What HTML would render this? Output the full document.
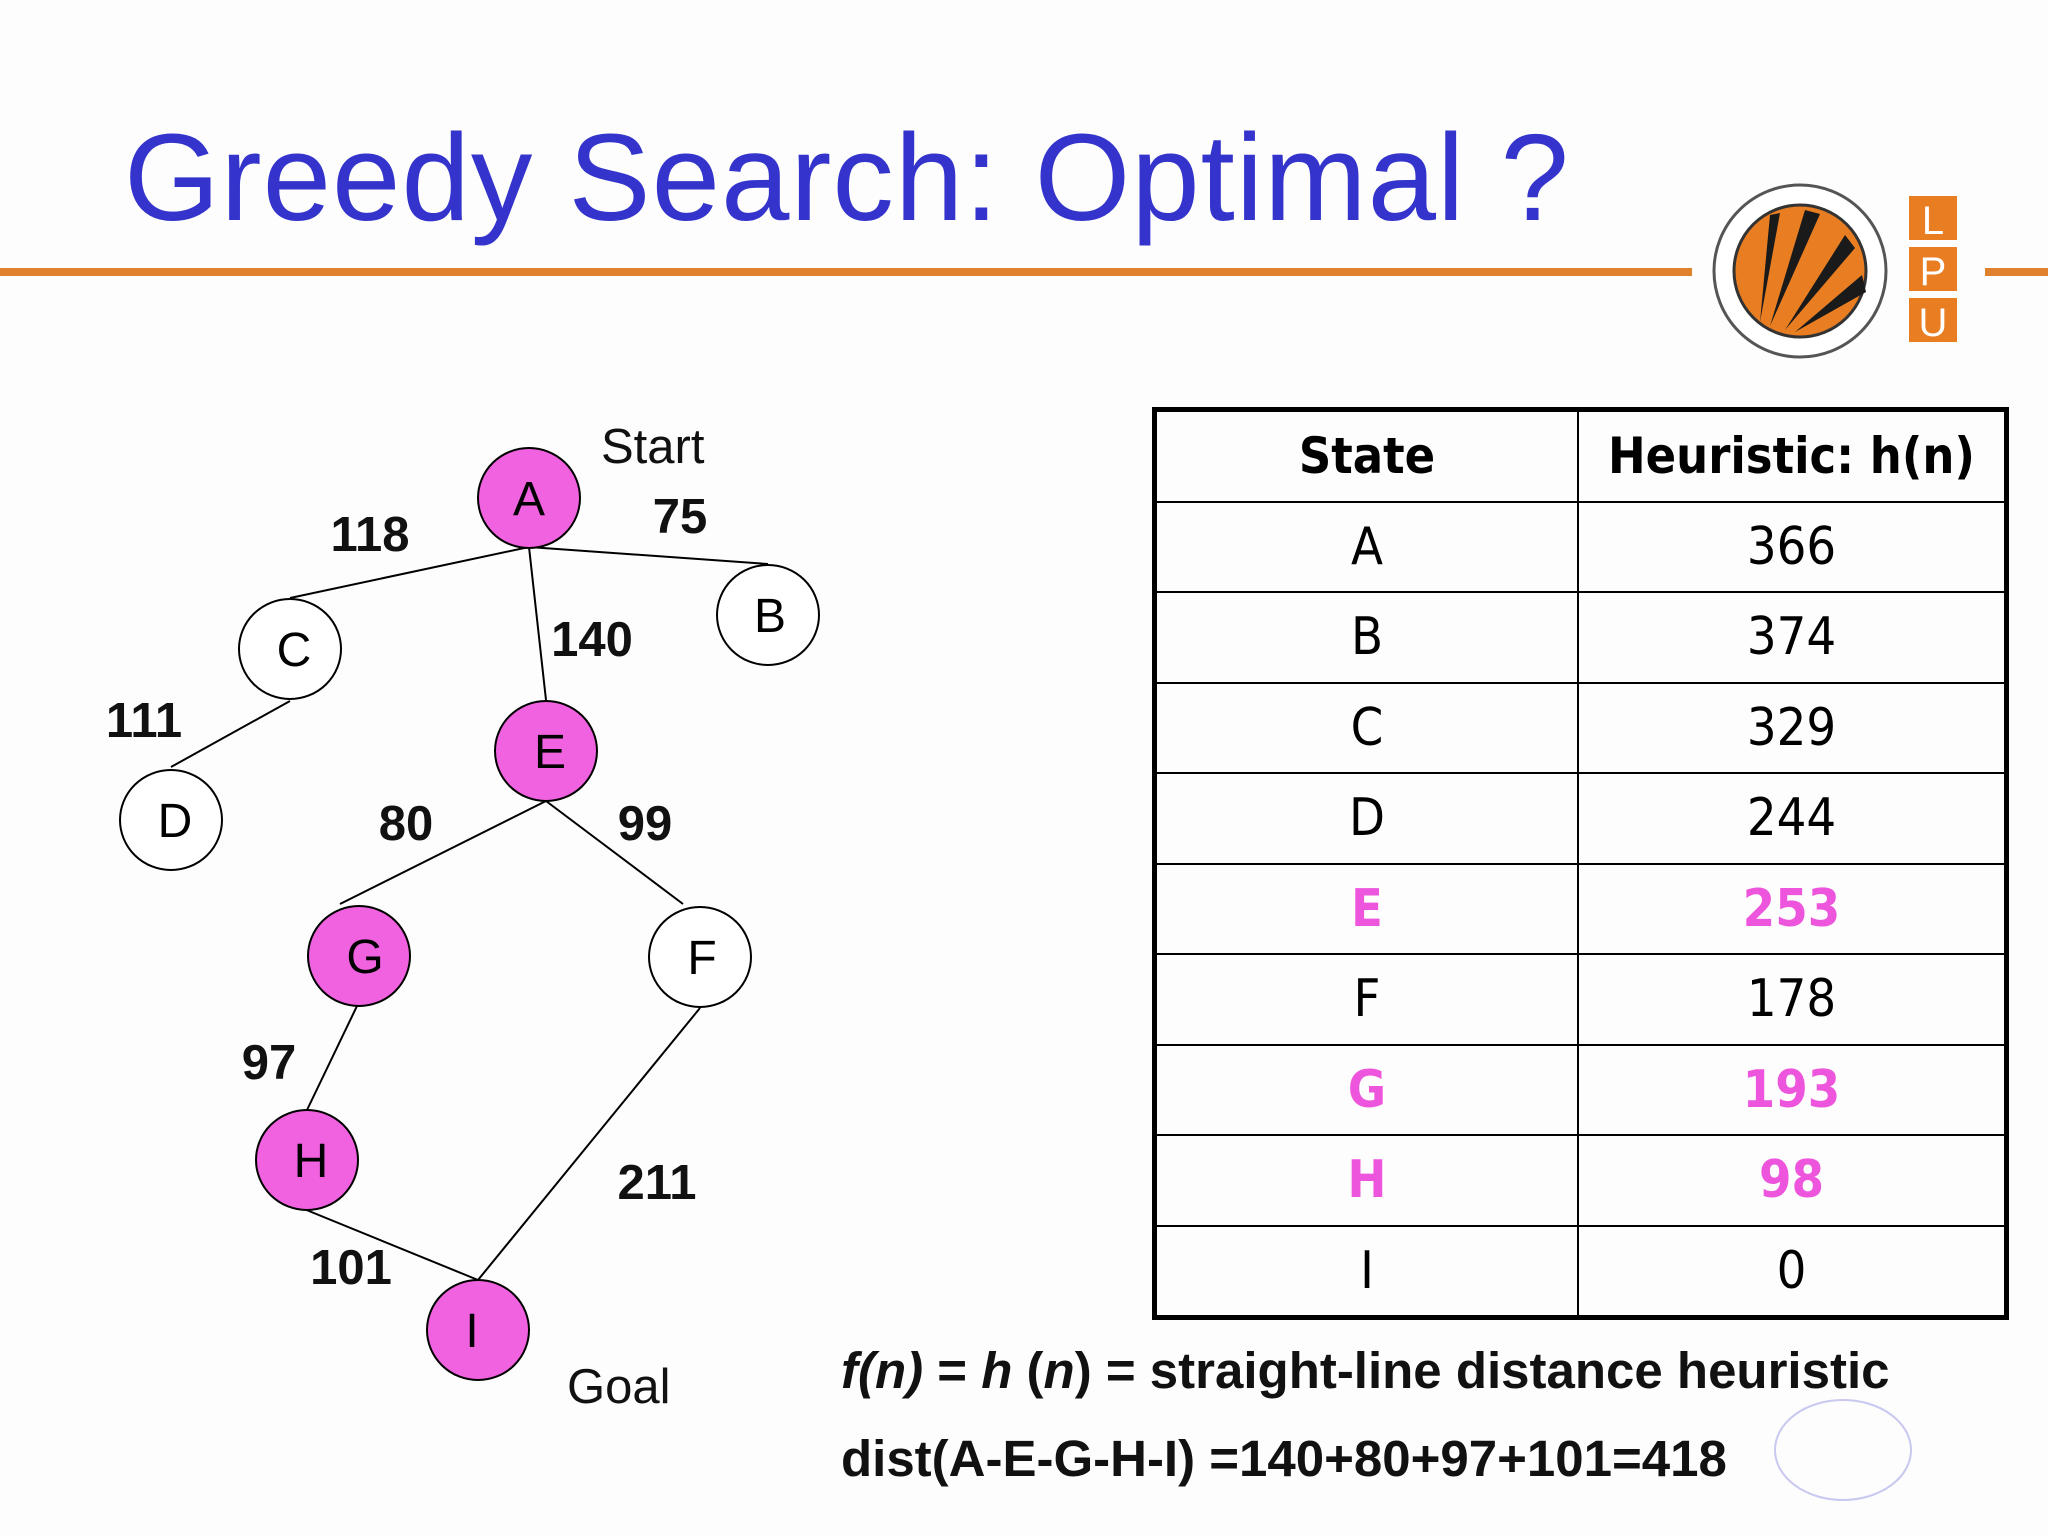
<!DOCTYPE html>
<html><head><meta charset="utf-8"><style>
body{margin:0;width:2048px;height:1536px;background:#fdfdfd;overflow:hidden;position:relative;font-family:"Liberation Sans",sans-serif}
#title{position:absolute;left:124px;top:108px;font-size:123px;color:#3434cc;white-space:nowrap;letter-spacing:1px}
table{position:absolute;left:1152px;top:407px;border-collapse:collapse;border:5px solid #000}
td{border:2.5px solid #000;text-align:center;font-family:"DejaVu Sans Condensed","DejaVu Sans",sans-serif;font-size:52px;height:88.5px;padding:0}
td.c1{width:420px}td.c2{width:425px}
.hdr td{font-weight:bold;font-size:50px}
.pk td{color:#ee55dd;font-weight:bold}
.f{position:absolute;left:841px;font-size:51px;font-weight:bold;white-space:nowrap;color:#111}
</style></head><body>
<div id="title">Greedy Search: Optimal ?</div>
<svg width="2048" height="1536" style="position:absolute;left:0;top:0">
<rect x="0" y="268" width="1692" height="8" fill="#e0812e"/>
<rect x="1985" y="268" width="63" height="8" fill="#e0812e"/>
<g>
<circle cx="1800" cy="271" r="86" fill="#fff" stroke="#555" stroke-width="3"/>
<circle cx="1800" cy="271" r="66" fill="#e87d22" stroke="#333" stroke-width="3"/>
<path d="M1760,322 L1770,215 L1780,213 Z M1770,326 L1805,210 L1820,214 Z M1785,330 L1845,235 L1855,248 Z M1795,332 L1862,275 L1866,292 Z" fill="#1a1a1a"/>
<rect x="1909" y="196" width="48" height="44" fill="#e87d22"/><text x="1933" y="234" font-size="40" fill="#fff" text-anchor="middle">L</text>
<rect x="1909" y="247" width="48" height="44" fill="#e87d22"/><text x="1933" y="285" font-size="40" fill="#fff" text-anchor="middle">P</text>
<rect x="1909" y="298" width="48" height="44" fill="#e87d22"/><text x="1933" y="336" font-size="40" fill="#fff" text-anchor="middle">U</text>
</g>
<g stroke="#000" stroke-width="2" fill="none">
<line x1="529" y1="547" x2="290" y2="598"/>
<line x1="529" y1="547" x2="768" y2="564"/>
<line x1="529" y1="547" x2="546" y2="700"/>
<line x1="290" y1="701" x2="171" y2="767"/>
<line x1="546" y1="801" x2="340" y2="904"/>
<line x1="546" y1="801" x2="683" y2="904"/>
<line x1="357" y1="1006" x2="307" y2="1110"/>
<line x1="304" y1="1209" x2="478" y2="1280"/>
<line x1="700" y1="1008" x2="478" y2="1280"/>
</g>
<g font-size="48" text-anchor="middle" stroke-width="2" stroke="#000">
<g><ellipse cx="529" cy="498" rx="51" ry="50" fill="#f062e0"/><text x="529" y="515" stroke="none">A</text></g>
<g><ellipse cx="768" cy="615" rx="51" ry="50" fill="#fff"/><text x="770" y="632" stroke="none">B</text></g>
<g><ellipse cx="290" cy="649" rx="51" ry="50" fill="#fff"/><text x="294" y="666" stroke="none">C</text></g>
<g><ellipse cx="171" cy="820" rx="51" ry="50" fill="#fff"/><text x="175" y="837" stroke="none">D</text></g>
<g><ellipse cx="546" cy="751" rx="51" ry="50" fill="#f062e0"/><text x="550" y="768" stroke="none">E</text></g>
<g><ellipse cx="359" cy="956" rx="51" ry="50" fill="#f062e0"/><text x="365" y="973" stroke="none">G</text></g>
<g><ellipse cx="700" cy="957" rx="51" ry="50" fill="#fff"/><text x="702" y="974" stroke="none">F</text></g>
<g><ellipse cx="307" cy="1160" rx="51" ry="50" fill="#f062e0"/><text x="311" y="1177" stroke="none">H</text></g>
<g><ellipse cx="478" cy="1330" rx="51" ry="50" fill="#f062e0"/><text x="472" y="1347" stroke="none">I</text></g>
</g>
<g font-size="49" font-weight="bold" text-anchor="middle" fill="#111">
<text x="370" y="551">118</text><text x="680" y="533">75</text><text x="592" y="656">140</text>
<text x="144" y="737">111</text><text x="406" y="840">80</text><text x="645" y="840">99</text>
<text x="269" y="1079">97</text><text x="657" y="1199">211</text><text x="351" y="1284">101</text>
</g>
<text x="601" y="463" font-size="49" fill="#111">Start</text>
<text x="567" y="1403" font-size="49" fill="#111">Goal</text>
<ellipse cx="1843" cy="1450" rx="68" ry="50" fill="none" stroke="#c8c8f0" stroke-width="2"/>
</svg>
<table id="tbl">
<tr class="hdr"><td class="c1">State</td><td class="c2">Heuristic: h(n)</td></tr>
</table>
<div class="f" style="top:1341px"><i>f(n)</i> = <i>h</i> (<i>n</i>) = straight-line distance heuristic</div>
<div class="f" style="top:1429px">dist(A-E-G-H-I) =140+80+97+101=418</div>
<script>
const states=["A","B","C","D","E","F","G","H","I"];
const hvals=[366,374,329,244,253,178,193,98,0];
const onPath=["E","G","H"];
const tbl=document.getElementById('tbl');
states.forEach((s,i)=>{
const tr=document.createElement('tr');


if(onPath.includes(s))tr.className='pk';
const a=document.createElement('td');a.className='c1';a.textContent=s;
const b=document.createElement('td');b.className='c2';b.textContent=hvals[i];
tr.appendChild(a);tr.appendChild(b);tbl.appendChild(tr);
});
</script>
</body></html>
